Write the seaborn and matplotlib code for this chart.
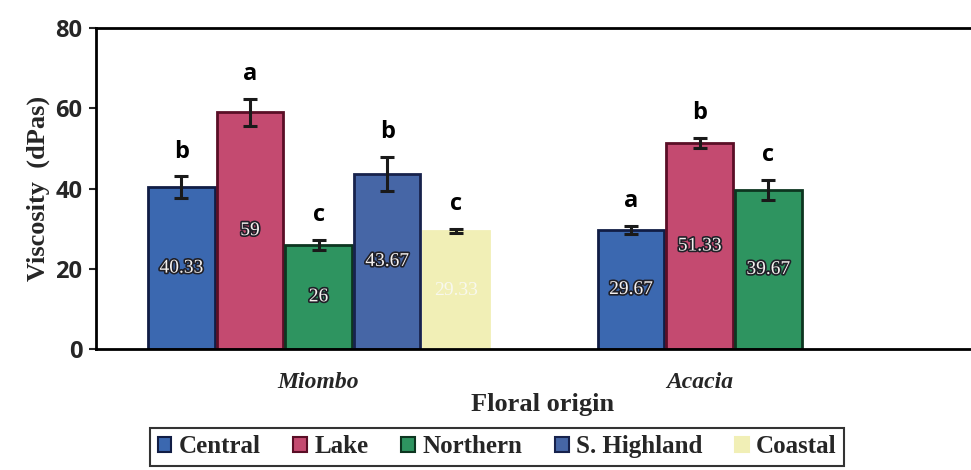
import matplotlib
matplotlib.use("Agg")
import matplotlib.pyplot as plt
import matplotlib.patheffects as pe
from matplotlib.colors import to_rgb
from matplotlib.patches import Patch
from matplotlib.font_manager import FontProperties
import numpy as np
import pandas as pd
import seaborn as sns

# Viscosity of honey by floral origin and region
groups = ["Miombo", "Acacia"]
regions = ["Central", "Lake", "Northern", "S. Highland", "Coastal"]

miombo_regions = ["Central", "Lake", "Northern", "S. Highland", "Coastal"]
miombo_values = [40.33, 59, 26, 43.67, 29.33]
miombo_errors = [2.7, 3.4, 1.2, 4.2, 0.5]
miombo_letters = ["b", "a", "c", "b", "c"]
miombo_labels = ["40.33", "59", "26", "43.67", "29.33"]

acacia_regions = ["Central", "Lake", "Northern"]
acacia_values = [29.67, 51.33, 39.67]
acacia_errors = [1.0, 1.3, 2.5]
acacia_letters = ["a", "b", "c"]
acacia_labels = ["29.67", "51.33", "39.67"]

region_colors = {
    "Central": "#3b68b0",
    "Lake": "#c44a70",
    "Northern": "#2e9460",
    "S. Highland": "#4666a6",
    "Coastal": "#f1efb6",
}
edge_colors = {
    "Central": "#111d45",
    "Lake": "#5a0e26",
    "Northern": "#0d3520",
    "S. Highland": "#17224c",
    "Coastal": "#f1efb6",
}

slot = 0.18  # spacing between adjacent bars, in group units
rows = []
for gi, (g, regs, vals, errs, lets, labs) in enumerate([
    ("Miombo", miombo_regions, miombo_values, miombo_errors, miombo_letters, miombo_labels),
    ("Acacia", acacia_regions, acacia_values, acacia_errors, acacia_letters, acacia_labels),
]):
    n = len(regs)
    for i in range(n):
        rows.append(dict(group=g, region=regs[i], value=vals[i], err=errs[i],
                         letter=lets[i], label=labs[i],
                         pos=round(gi + (i - (n - 1) / 2) * slot, 4)))
df = pd.DataFrame(rows)

sns.set_style("white")
fig = plt.figure(figsize=(9.71, 4.70), dpi=100)
ax = fig.add_axes([0.0989, 0.2574, 0.92, 0.683])

sns.barplot(data=df, x="pos", y="value", hue="region", hue_order=regions,
            palette=region_colors, saturation=1, native_scale=True, dodge=False,
            width=0.97, errorbar=None, linewidth=2.0, ax=ax, legend=False)

# darker outlines per bar
for p in ax.patches:
    fc = p.get_facecolor()
    for r, c in region_colors.items():
        if np.allclose(fc[:3], to_rgb(c), atol=1e-2):
            p.set_edgecolor(edge_colors[r])

ax.errorbar(df["pos"], df["value"], yerr=df["err"], fmt="none",
            ecolor="#1a1a1a", elinewidth=2.2, capsize=5, capthick=2.2, zorder=5)

for _, r in df.iterrows():
    ax.text(r["pos"], r["value"] + r["err"] + 3.2, r["letter"], ha="center",
            va="bottom", fontsize=17, fontweight="bold", family="Open Sans",
            color="black")
    if r["region"] == "Coastal":
        ax.text(r["pos"], r["value"] / 2, r["label"], ha="center", va="center",
                fontsize=14, family="Liberation Serif", color="#f8f8ee")
    else:
        ax.text(r["pos"], r["value"] / 2, r["label"], ha="center", va="center",
                fontsize=14, family="Liberation Serif", color="#f4f0ee",
                path_effects=[pe.withStroke(linewidth=2.4, foreground="#202028")])

ax.set_xlim(-0.584, 1.76)
ax.set_ylim(0, 80)
ax.set_yticks([0, 20, 40, 60, 80])
ax.set_yticklabels(["0", "20", "40", "60", "80"], fontsize=17,
                   fontweight="bold", family="Open Sans")
ax.tick_params(axis="y", which="both", left=True, length=5, width=1.5, pad=5)
ax.set_xticks([0, 1])
cat_font = FontProperties(family="Liberation Serif", weight="bold",
                          style="italic", size=17)
ax.set_xticklabels(groups, fontproperties=cat_font)
ax.tick_params(axis="x", bottom=False, pad=13)
ax.set_xlabel("Floral origin", fontsize=19, fontweight="bold",
              family="Liberation Serif", labelpad=0)
ax.set_ylabel("Viscosity  (dPas)", fontsize=19, fontweight="bold",
              family="Liberation Serif", labelpad=4)

for side in ["left", "bottom", "top"]:
    ax.spines[side].set_visible(True)
    ax.spines[side].set_color("black")
    ax.spines[side].set_linewidth(2.0)
ax.spines["right"].set_visible(False)

handles = [Patch(facecolor=region_colors[r], edgecolor=edge_colors[r], linewidth=1.5)
           for r in regions]
leg = fig.legend(handles, regions, loc="center", bbox_to_anchor=(0.512, 0.049),
                 ncol=5, frameon=True, fancybox=False, edgecolor="black",
                 handlelength=0.55, handleheight=0.55, handletextpad=0.3,
                 columnspacing=1.3, borderpad=0.3,
                 prop={"family": "Liberation Serif", "size": 18, "weight": "bold"})
leg.get_frame().set_linewidth(1.5)

fig.savefig("out.png", dpi=100)
